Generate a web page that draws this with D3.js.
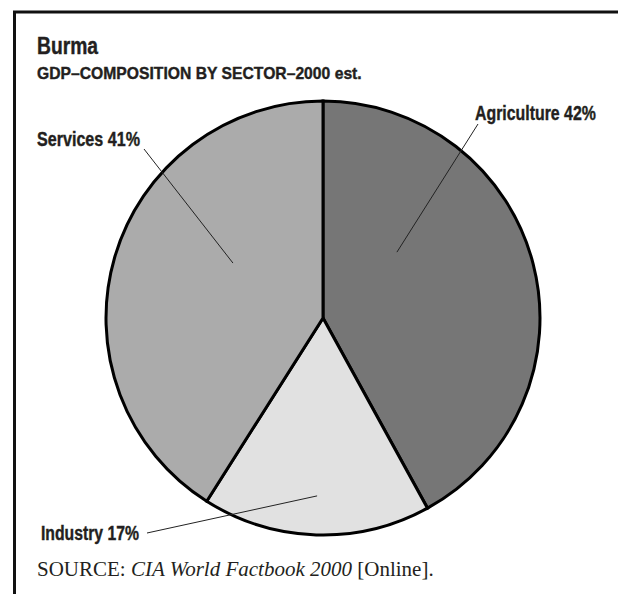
<!DOCTYPE html>
<html>
<head>
<meta charset="utf-8">
<script src="https://cdn.jsdelivr.net/npm/d3@7/dist/d3.min.js"></script>
<style>
  html, body { margin: 0; padding: 0; background: #fff; }
  svg { display: block; }
</style>
</head>
<body>
<script>
// GDP composition by sector, Burma, 2000 estimate
const sectors = ["Agriculture", "Industry", "Services"];
const shares = [42, 17, 41];
const sliceColors = ["#767676", "#e1e1e1", "#ababab"];

// Label placement: text position, condensed text width,
// leader line outer end, and inner end (degrees clockwise from 12 o'clock, radius px)
const labelText = [[475, 120], [41, 540], [37, 146]];
const labelWidth = [121, 98, 103];
const leaderOuter = [[478, 124], [147, 533], [144, 149]];
const leaderInner = [[48.3, 99], [181.9, 178], [301.4, 105.5]];

const W = 618, H = 594;
const cx = 323, cy = 318, R = 217;

const svg = d3.select("body").append("svg")
  .attr("width", W).attr("height", H);

// outer frame (runs off the right and bottom edges)
svg.append("rect")
  .attr("x", 14.5).attr("y", 12)
  .attr("width", W + 20).attr("height", H + 20)
  .attr("fill", "none").attr("stroke", "#111").attr("stroke-width", 3);

// Condensed bold sans: Arial-metric bold scaled horizontally to the set width
const sans = "'Liberation Sans', Arial, sans-serif";
const ink = "#231f20";

function condensed(x, y, size, width, str) {
  const t = svg.append("text")
    .attr("font-family", sans).attr("font-weight", "bold")
    .attr("font-size", size).attr("fill", ink)
    .attr("stroke", ink).attr("stroke-width", 0.4)
    .text(str);
  const natural = t.node().getComputedTextLength();
  const sx = width / natural;
  t.attr("transform", `translate(${x},${y}) scale(${sx},1)`);
  return t;
}

condensed(37, 54, 23, 61, "Burma");
condensed(37, 78.5, 16.5, 325, "GDP–COMPOSITION BY SECTOR–2000 est.");

const data = sectors.map((s, i) => ({ sector: s, value: shares[i], color: sliceColors[i] }));

const pie = d3.pie().value(d => d.value).sort(null);
const arc = d3.arc().innerRadius(0).outerRadius(R);

const g = svg.append("g").attr("transform", `translate(${cx},${cy})`);

g.selectAll("path.slice")
  .data(pie(data))
  .join("path")
  .attr("class", "slice")
  .attr("d", arc)
  .attr("fill", d => d.data.color)
  .attr("stroke", "#000")
  .attr("stroke-width", 3)
  .attr("stroke-linejoin", "miter");

// leader lines
data.forEach((d, i) => {
  const p = d3.pointRadial(leaderInner[i][0] * Math.PI / 180, leaderInner[i][1]);
  svg.append("line")
    .attr("x1", leaderOuter[i][0]).attr("y1", leaderOuter[i][1])
    .attr("x2", cx + p[0]).attr("y2", cy + p[1])
    .attr("stroke", "#222").attr("stroke-width", 1);
});

// slice labels
data.forEach((d, i) => {
  condensed(labelText[i][0], labelText[i][1], 19.5, labelWidth[i], `${d.sector} ${d.value}%`);
});

// source line
const src = svg.append("text")
  .attr("x", 37).attr("y", 576)
  .attr("font-family", "'Liberation Serif', 'Times New Roman', serif")
  .attr("font-size", 21).attr("fill", ink);
src.append("tspan").text("SOURCE: ");
src.append("tspan").attr("font-style", "italic").text("CIA World Factbook 2000");
src.append("tspan").text(" [Online].");
</script>
</body>
</html>
